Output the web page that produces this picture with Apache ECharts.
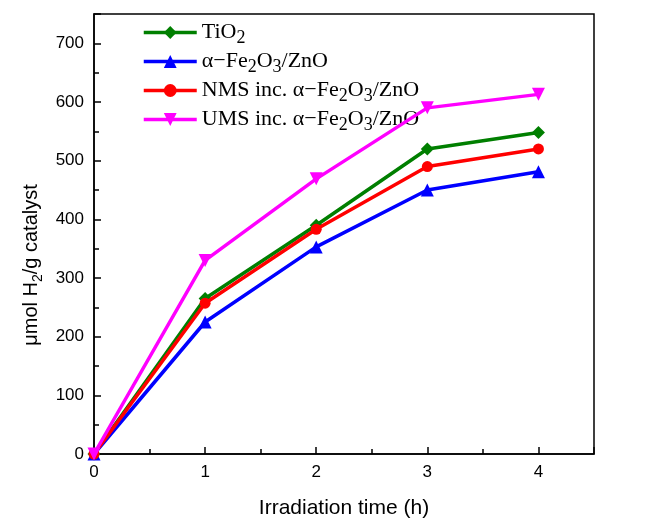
<!DOCTYPE html>
<html><head><meta charset="utf-8">
<script src="https://cdn.jsdelivr.net/npm/echarts@6/dist/echarts.min.js"></script>
<style>html,body{margin:0;padding:0;background:#fff}#c{width:668px;height:524px}</style>
</head><body><div id="c"></div>
<script>
const hours = [0, 1, 2, 3, 4];
const tio2 = [0, 265, 390, 520, 548];
const feZnO = [0, 225, 353, 450, 481];
const nms = [0, 257, 383, 490, 520];
const ums = [0, 330, 469, 590, 613];
const seriesNames = ['TiO2', 'Fe2O3/ZnO', 'NMS', 'UMS'];
const legendLabels = {
  'TiO2': '{t|TiO}{s|2}',
  'Fe2O3/ZnO': '{t|α−Fe}{s|2}{t|O}{s|3}{t|/ZnO}',
  'NMS': '{t|NMS inc. α−Fe}{s|2}{t|O}{s|3}{t|/ZnO}',
  'UMS': '{t|UMS inc. α−Fe}{s|2}{t|O}{s|3}{t|/ZnO}'
};
const colors = ['#007f00', '#0000ff', '#ff0000', '#ff00ff'];
const symbols = ['diamond', 'triangle', 'circle', 'triangle'];
const rotations = [0, 0, 0, 180];
const sizes = [13, 13, 11, 13];
const values = [tio2, feZnO, nms, ums];

const chart = echarts.init(document.getElementById('c'));
const axisFont = {fontFamily: 'Liberation Sans, Arial, sans-serif', fontSize: 17, color: '#000'};
chart.setOption({
  animation: false,
  grid: {left: 94, right: 74, top: 14, bottom: 67, show: true, borderColor: '#000', borderWidth: 1.5, backgroundColor: 'transparent'},
  legend: {
    orient: 'vertical', left: 137, top: 16, itemWidth: 53, itemHeight: 16, itemGap: 3,
    data: seriesNames,
    formatter: n => legendLabels[n],
    lineStyle: {width: 3.5},
    textStyle: {
      rich: {
        t: {fontFamily: 'Liberation Serif, Times New Roman, serif', fontSize: 22, color: '#000', lineHeight: 23, verticalAlign: 'top'},
        s: {fontFamily: 'Liberation Serif, Times New Roman, serif', fontSize: 18, color: '#000', lineHeight: 23, padding: [8, 0, 0, 0], verticalAlign: 'top'}
      }
    }
  },
  xAxis: {
    type: 'value', min: 0, max: 4.5, interval: 1,
    name: 'Irradiation time (h)', nameLocation: 'middle', nameGap: 44,
    nameTextStyle: {fontFamily: 'Liberation Sans, Arial, sans-serif', fontSize: 21, color: '#000'},
    axisLine: {lineStyle: {color: '#000', width: 1.5}},
    axisTick: {inside: true, length: 7, lineStyle: {color: '#000', width: 1.5}},
    minorTick: {show: true, splitNumber: 2, length: 5, lineStyle: {color: '#000', width: 1.5}},
    axisLabel: {...axisFont, margin: 10, showMaxLabel: false},
    splitLine: {show: false}
  },
  yAxis: {
    type: 'value', min: 0, max: 750, interval: 100,
    name: '{t|μmol H}{s|2}{t|/g catalyst}', nameLocation: 'middle', nameGap: 50,
    nameTextStyle: {
      padding: [0, 62, 0, 0],
      rich: {
        t: {fontFamily: 'Liberation Sans, Arial, sans-serif', fontSize: 20, color: '#000', lineHeight: 22, verticalAlign: 'top'},
        s: {fontFamily: 'Liberation Sans, Arial, sans-serif', fontSize: 14, color: '#000', lineHeight: 22, padding: [9, 0, 0, 0], verticalAlign: 'top'}
      }
    },
    axisLine: {lineStyle: {color: '#000', width: 1.5}},
    axisTick: {inside: true, length: 7, lineStyle: {color: '#000', width: 1.5}},
    minorTick: {show: true, splitNumber: 2, length: 5, lineStyle: {color: '#000', width: 1.5}},
    axisLabel: {...axisFont, margin: 10, showMaxLabel: false},
    splitLine: {show: false}
  },
  series: seriesNames.map((n, i) => ({
    name: n, type: 'line',
    data: hours.map((h, j) => [h, values[i][j]]),
    symbol: symbols[i], symbolRotate: rotations[i], symbolSize: sizes[i],
    showAllSymbol: true,
    lineStyle: {color: colors[i], width: 3.5},
    itemStyle: {color: colors[i], borderWidth: 0},
    z: 2 + i
  }))
});
</script></body></html>
